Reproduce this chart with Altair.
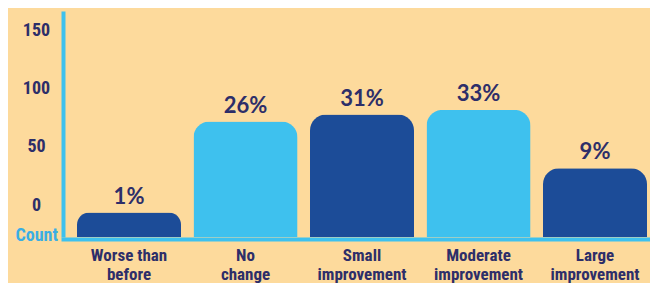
import altair as alt
import pandas as pd

categories = ["Worse than|before", "No|change", "Small|improvement",
              "Moderate|improvement", "Large|improvement"]
counts = [21, 99, 105, 109, 59]
percent_labels = ["1%", "26%", "31%", "33%", "9%"]
y_ticks = [0, 50, 100, 150]

df = pd.DataFrame({"category": categories, "count": counts, "pct": percent_labels})

BG = "#FDDA9C"
LIGHT = "#3EC1EE"
DARK = "#1C4C98"
NAVY = "#2D2E69"
COUNT_BLUE = "#3AAEE4"
narrow = "Roboto Condensed"

x = alt.X(
    "category:N", sort=None,
    scale=alt.Scale(paddingInner=0.107, paddingOuter=0.0728, align=0.825),
    axis=alt.Axis(
        title=None, labelExpr="split(datum.label, '|')", labelAngle=0,
        labelFont=narrow, labelFontSize=17, labelFontWeight="bold",
        labelColor=NAVY, labelPadding=8, labelLineHeight=19,
        labelBaseline="top", ticks=False, tickSize=0,
        domainColor=LIGHT, domainWidth=4, domainCap="square", offset=2,
    ),
)
y = alt.Y(
    "count:Q",
    scale=alt.Scale(domain=[0, 193.8], nice=False, zero=True),
    axis=alt.Axis(
        values=y_ticks, title="Count", titleAngle=0, titleX=-48, titleY=229,
        titleAlign="left", titleBaseline="alphabetic", titleFont=narrow,
        titleFontSize=18, titleFontWeight="bold", titleColor=COUNT_BLUE,
        labelFont=narrow, labelFontSize=18, labelFontWeight="bold",
        labelColor=NAVY, labelAlign="center", labelBaseline="middle",
        labelPadding=27, labelOffset=-32, ticks=False, tickSize=0,
        grid=False, domainColor=LIGHT, domainWidth=4,
    ),
)

bars = alt.Chart(df).mark_bar(
    cornerRadiusTopLeft=16, cornerRadiusTopRight=16
).encode(
    x=x, y=y,
    color=alt.Color("category:N", sort=None, legend=None,
                    scale=alt.Scale(domain=categories,
                                    range=[DARK, LIGHT, DARK, LIGHT, DARK])),
)

labels = alt.Chart(df).mark_text(
    dy=-16, font="Lato", fontSize=22, fontWeight="bold", color=NAVY,
    baseline="middle", align="center",
).encode(x=x, y=y, text="pct:N")

chart = alt.layer(bars, labels).properties(
    width=587, height=226,
    autosize=alt.AutoSizeParams(type="none"),
    padding={"left": 55, "top": 3, "right": 0, "bottom": 46},
    background=BG,
).configure_view(stroke=None)

chart.save("out.html", embed_options={"renderer": "svg", "actions": False})
